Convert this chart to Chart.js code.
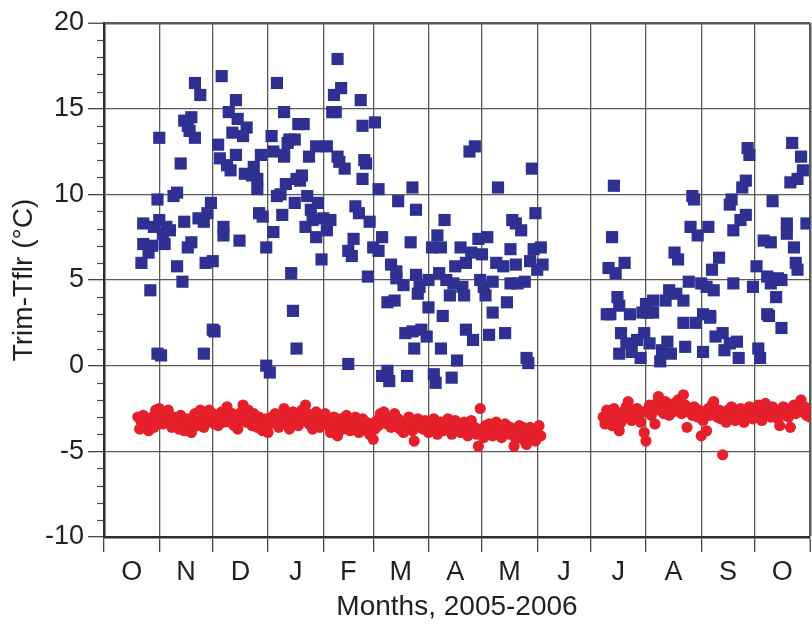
<!DOCTYPE html>
<html>
<head>
<meta charset="utf-8">
<script src="https://cdn.jsdelivr.net/npm/chart.js@4.4.1/dist/chart.umd.min.js"></script>
<style>
  html, body { margin: 0; padding: 0; background: #ffffff; }
  #wrap { width: 812px; height: 629px; }
</style>
</head>
<body>
<div id="wrap"><canvas id="chart" width="812" height="629"></canvas></div>
<script>
// Days are counted from 1 October 2005.
const monthStarts = [0, 31, 61, 92, 123, 151, 182, 212, 243, 273, 304, 335, 365, 396];
const monthLabels = ['O', 'N', 'D', 'J', 'F', 'M', 'A', 'M', 'J', 'J', 'A', 'S', 'O'];
const yMajorTicks = [-10, -5, 0, 5, 10, 15, 20];

// Trim - Tflr, blue squares: day and value
const blueDay = [
  21, 22, 22, 26, 25, 27, 28, 30, 31, 31, 33, 35, 37, 34, 39, 41, 41, 44, 43, 45,
  45, 47, 49, 48, 51, 51, 54, 47, 49, 53, 56, 58, 60, 57, 61, 64, 65, 66, 67, 67,
  69, 71, 70, 72, 74, 74, 75, 76, 78, 80, 79, 83, 84, 86, 86, 87, 89, 88, 91, 94,
  95, 97, 97, 100, 101, 95, 101, 103, 102, 105, 106, 107, 107, 108, 109,
  30, 32, 56, 62, 61, 91, 93, 108,
  112, 104, 101, 115, 119, 125, 111, 110, 99, 114, 120, 116, 117, 113, 119, 123, 127, 125, 122, 131,
  133, 129, 128, 130, 144, 145, 152, 131, 132, 135, 146, 147, 145, 154, 141, 143, 149, 140, 137, 139,
  151, 156, 154, 161, 164, 164, 148, 168, 172, 165, 173, 175, 159, 163, 175, 177, 176, 182, 182, 184,
  187, 189, 188, 191, 192, 194, 190, 197, 200, 201, 202, 196, 203, 206, 205, 208, 210, 212, 215, 211,
  213, 214, 218, 218, 221, 220, 224, 226, 228, 228, 229, 231, 234, 231, 232, 236, 240, 242, 241, 239,
  245, 246, 243,
  137, 156, 159, 160, 170, 169, 173, 174, 178, 181, 185, 186, 189, 195, 198, 203, 207, 216, 225, 237, 238,
  286, 285, 283, 287, 292, 288, 284, 289, 295, 304, 308, 305, 315, 317, 320, 322, 321, 325, 328, 330,
  331, 329, 333, 339, 335, 338, 342, 341, 345, 336, 340, 351, 352, 353, 357, 360, 358, 360, 353, 361,
  362, 364, 366, 370, 374, 375, 372, 374, 378, 377, 372, 383, 383, 387, 388, 389, 385, 389, 392, 391,
  386, 394, 380,
  290, 293, 289, 296, 301, 299, 303, 306, 302, 308, 312, 313, 316, 318, 325, 326, 332, 336, 340, 343,
  347, 348, 351, 355, 356, 367, 368, 373, 380, 282
];
const blueVal = [
  6.0, 7.1, 8.3, 4.4, 6.6, 7.0, 8.1, 9.7, 13.3, 8.5, 7.7, 8.1, 7.9, 7.1, 9.9, 10.1, 5.8, 4.9, 11.8, 8.4,
  14.3, 14.0, 14.5, 13.7, 13.3, 16.5, 15.8, 6.9, 7.2, 8.6, 8.4, 8.9, 9.5, 6.0, 6.1, 12.9, 12.1, 16.9, 8.1, 7.6,
  11.7, 11.4, 14.8, 13.6, 15.5, 12.3, 14.4, 7.3, 13.4, 13.9, 11.2, 11.1, 11.6, 10.9, 10.3, 8.9, 8.7, 12.3, 6.9, 13.4,
  7.8, 16.5, 9.9, 8.8, 14.8, 12.5, 12.3, 13.0, 10.6, 5.4, 3.2, 9.5, 13.2, 10.9, 14.1,
  0.7, 0.6, 0.7, 2.0, 2.1, 0.0, -0.4, 1.0,
  14.1, 13.2, 12.2, 12.2, 12.8, 12.8, 11.1, 10.8, 10.0, 9.9, 9.5, 9.1, 8.5, 8.1, 7.5, 8.6, 8.5, 7.9, 6.2, 17.9,
  16.2, 15.8, 14.8, 14.8, 15.5, 14.0, 14.2, 12.2, 11.9, 11.5, 12.0, 11.8, 10.9, 10.3, 9.3, 8.9, 8.4, 7.4, 6.7, 6.4,
  6.9, 7.5, 6.7, 5.9, 5.5, 5.1, 5.2, 4.7, 7.2, 9.6, 10.4, 9.1, 3.7, 3.8, 5.3, 4.6, 4.2, 5.0, 3.4, 6.9,
  7.6, 6.9, 5.4, 8.5, 5.0, 4.1, 2.9, 5.8, 6.9, 4.6, 4.1, 4.8, 6.0, 6.6, 12.5, 12.8, 7.4, 6.5, 7.5, 5.0,
  4.6, 4.1, 4.9, 3.1, 10.4, 6.0, 5.8, 3.7, 4.8, 6.8, 8.5, 8.3, 7.9, 5.9, 4.8, 4.9, 11.5, 8.9, 6.8, 6.1,
  6.9, 5.9, 5.6,
  0.1, -0.6, -0.3, -0.9, -0.6, 1.9, 2.0, 1.0, 2.1, 1.7, -0.5, -1.0, 1.0, -0.7, 0.3, 2.1, 1.5, 1.8, 1.9, 0.45, 0.15,
  10.5, 7.5, 5.7, 5.4, 6.0, 4.0, 3.0, 3.5, 3.0, 3.6, 3.8, 3.1, 3.8, 4.4, 6.6, 6.2, 4.2, 3.8, 4.9, 9.9,
  9.7, 8.1, 7.6, 8.1, 4.8, 4.6, 4.4, 5.6, 6.3, 3.0, 2.9, 9.4, 9.7, 7.9, 8.5, 8.8, 10.4, 10.8, 4.8, 12.7,
  12.3, 4.6, 5.8, 7.3, 7.2, 9.6, 5.2, 4.8, 5.1, 4.0, 3.0, 8.3, 7.7, 6.9, 6.0, 5.6, 10.7, 10.9, 11.4, 12.2,
  13.0, 8.3, 5.0,
  1.9, 1.3, 0.7, 0.8, 0.45, 1.5, 1.9, 1.3, 3.1, 3.1, 0.25, 0.9, 1.4, 0.7, 2.5, 1.1, 2.5, 0.8, 2.8, 1.7,
  1.9, 0.9, 1.3, 1.4, 0.45, 1.0, 0.45, 2.9, 2.2, 3.0
];

// Red circles: one value per day, first run from day 19, second run from day 280
const redStart1 = 19;
const redVal1 = [
  -3.0, -3.7, -3.3, -2.9, -3.5, -3.1, -3.8, -3.4, -3.0, -3.6,
  -2.6, -3.2, -2.5, -3.0, -3.4, -2.7, -3.1, -2.6, -3.3, -3.6,
  -3.0, -3.5, -3.2, -3.7, -2.9, -3.3, -3.8, -3.4, -3.1, -3.6,
  -3.9, -3.3, -2.8, -3.5, -3.0, -2.6, -3.2, -3.6, -2.9, -3.3,
  -2.6, -3.1, -2.8, -3.4, -3.0, -3.5, -3.2, -2.7, -3.3, -2.9,
  -2.4, -3.0, -3.3, -2.8, -3.5, -3.1, -3.7, -3.2, -2.7, -2.3,
  -2.9, -3.3, -2.6, -3.1, -3.5, -2.8, -3.2, -3.6, -3.0, -3.4,
  -3.8, -3.5, -3.1, -3.9, -3.4, -3.0, -3.3, -2.8, -3.2, -3.6,
  -2.9, -3.3, -2.5, -3.0, -3.4, -3.7, -3.1, -2.7, -3.3, -2.9,
  -3.5, -3.0, -2.6, -3.2, -2.3, -2.8, -3.4, -3.1, -3.7, -3.0,
  -2.7, -3.3, -3.6, -3.0, -3.4, -2.8, -3.2, -3.5, -3.9, -3.3,
  -3.0, -3.6, -4.1, -3.4, -3.1, -3.7, -3.3, -2.9, -3.5, -3.8,
  -3.2, -3.6, -3.0, -3.4, -3.9, -3.5, -3.1, -3.7, -3.3, -3.6,
  -4.0, -3.4, -4.3, -3.7, -3.2, -3.5, -2.8, -3.3, -2.7, -3.1,
  -3.4, -3.0, -3.6, -3.2, -2.8, -3.5, -3.1, -3.7, -3.4, -3.9,
  -3.3, -3.6, -3.0, -3.5, -3.8, -4.4, -3.4, -3.1, -3.6, -3.3,
  -3.7, -3.2, -3.5, -3.9, -3.4, -3.7, -3.1, -3.6, -4.0, -3.5,
  -3.3, -3.8, -3.4, -3.7, -3.1, -3.6, -4.0, -3.5, -3.2, -3.8,
  -3.4, -3.9, -3.6, -3.3, -3.7, -4.1, -3.5, -3.2, -3.8, -3.6,
  -4.0, -4.7, -2.5, -3.7, -4.2, -3.5, -3.9, -3.4, -3.8, -4.1,
  -3.6, -3.3, -3.9, -3.5, -4.2, -3.7, -3.4, -3.8, -4.0, -3.6,
  -3.9, -4.7, -4.3, -3.7, -3.5, -4.0, -3.6, -4.4, -4.6, -3.9,
  -3.6, -4.2, -3.8, -4.4, -3.7, -3.5, -4.1
];
const redStart2 = 280;
const redVal2 = [
  -3.0, -3.4, -2.6, -3.1, -2.8, -3.5, -2.5, -3.2, -2.9, -3.8,
  -3.3, -2.7, -3.0, -2.4, -2.1, -2.8, -3.2, -2.6, -3.0, -2.5,
  -2.9, -3.3, -2.7, -3.9, -4.4, -2.6, -2.3, -2.9, -2.5, -3.4,
  -2.2, -1.8, -2.6, -2.3, -2.8, -2.1, -2.5, -2.9, -2.4, -2.7,
  -2.2, -2.6, -2.0, -2.4, -2.8, -1.7, -2.3, -3.6, -2.7, -2.5,
  -2.9, -2.4, -2.7, -3.0, -2.6, -4.1, -3.2, -2.8, -3.8, -2.5,
  -2.9, -2.3, -2.1, -2.7, -3.0, -2.6, -3.1, -5.2, -2.8, -3.3,
  -2.6, -3.0, -2.4, -2.8, -3.2, -2.7, -3.1, -2.5, -2.9, -3.3,
  -2.6, -3.0, -2.4, -2.8, -3.1, -2.5, -2.9, -2.3, -2.7, -3.2,
  -2.6, -2.2, -2.9, -2.5, -3.0, -2.4, -2.8, -2.6, -3.1, -3.5,
  -2.7, -2.4, -2.9, -2.5, -3.0, -3.6, -2.6, -2.3, -2.8, -2.5,
  -2.2, -2.0, -2.7, -2.4, -2.9, -2.6, -3.0
];

const bluePoints = blueDay.map((d, i) => ({ x: d, y: blueVal[i] }));
const redPoints = redVal1.map((v, i) => ({ x: redStart1 + i, y: v }))
  .concat(redVal2.map((v, i) => ({ x: redStart2 + i, y: v })));

// label positions sit halfway through each month
const monthMids = monthLabels.map((_, i) => (monthStarts[i] + monthStarts[i + 1]) / 2);
const xTickValues = monthStarts.concat(monthMids).sort((a, b) => a - b);

const TEXT = '#231f20';
const GRID = '#5a5a5a';
const FRAME = '#2d2d2d';
const FONT = 'Liberation Sans, Arial, Helvetica, sans-serif';

// short tick marks at every whole degree between the labelled ones
const minorTicks = {
  id: 'minorTicks',
  afterDraw(chart) {
    const y = chart.scales.y;
    const left = chart.chartArea.left;
    const ctx = chart.ctx;
    ctx.save();
    ctx.strokeStyle = '#444';
    ctx.lineWidth = 1.2;
    for (let v = y.min; v <= y.max; v++) {
      if (v % 5 === 0) continue;
      const py = Math.round(y.getPixelForValue(v)) + 0.5;
      ctx.beginPath();
      ctx.moveTo(left - 7, py);
      ctx.lineTo(left, py);
      ctx.stroke();
    }
    ctx.restore();
  }
};

new Chart(document.getElementById('chart'), {
  type: 'scatter',
  data: {
    datasets: [
      {
        label: 'Trim-Tflr',
        data: bluePoints,
        pointStyle: 'rect',
        pointRadius: 8.6,
        pointBorderWidth: 0,
        backgroundColor: '#2e3192',
        borderColor: '#2e3192'
      },
      {
        label: 'red',
        data: redPoints,
        pointStyle: 'circle',
        pointRadius: 5.6,
        pointBorderWidth: 0,
        backgroundColor: '#e5202a',
        borderColor: '#e5202a'
      }
    ]
  },
  options: {
    responsive: false,
    animation: false,
    devicePixelRatio: 1,
    layout: { autoPadding: false, padding: { left: 0, right: 2, top: 23, bottom: 0 } },
    plugins: {
      legend: { display: false },
      tooltip: { enabled: false }
    },
    scales: {
      x: {
        type: 'linear',
        min: 0,
        max: 396,
        afterBuildTicks(scale) {
          scale.ticks = xTickValues.map(v => ({ value: v }));
        },
        afterFit(scale) {
          scale.height = 92;
          scale.paddingLeft = 0;
          scale.paddingRight = 0;
        },
        ticks: {
          autoSkip: false,
          maxRotation: 0,
          padding: 0,
          color: TEXT,
          font: { family: FONT, size: 27, lineHeight: 1.55 },
          callback(value) {
            const i = monthMids.indexOf(value);
            return i >= 0 ? monthLabels[i] : '';
          }
        },
        grid: {
          drawTicks: true,
          tickLength: 15,
          color: ctx => (ctx.tick && monthStarts.includes(ctx.tick.value)) ? GRID : 'rgba(0,0,0,0)',
          tickColor: ctx => (ctx.tick && monthStarts.includes(ctx.tick.value)) ? '#444' : 'rgba(0,0,0,0)',
          lineWidth: ctx => (ctx.tick && ctx.tick.value === 396) ? 2.5 : 1.3,
          tickWidth: 1.3
        },
        border: { display: true, color: FRAME, width: 2.5 },
        title: {
          display: true,
          text: 'Months, 2005-2006',
          color: TEXT,
          font: { family: FONT, size: 28 },
          padding: { top: 0, bottom: 5 }
        }
      },
      y: {
        min: -10,
        max: 20,
        afterFit(scale) {
          scale.width = 104;
          scale.paddingLeft = 0;
          scale.paddingRight = 0;
        },
        ticks: {
          stepSize: 1,
          autoSkip: false,
          padding: 4,
          color: TEXT,
          font: { family: FONT, size: 27 },
          callback(value) {
            return yMajorTicks.includes(value) ? String(value) : '';
          }
        },
        grid: {
          drawTicks: true,
          tickLength: 16,
          color: ctx => (ctx.tick && yMajorTicks.includes(ctx.tick.value)) ? GRID : 'rgba(0,0,0,0)',
          tickColor: ctx => (ctx.tick && yMajorTicks.includes(ctx.tick.value)) ? '#444' : 'rgba(0,0,0,0)',
          lineWidth: ctx => (ctx.tick && ctx.tick.value === 20) ? 2.5 : 1.3,
          tickWidth: 1.3
        },
        border: { display: true, color: FRAME, width: 2.5 },
        title: {
          display: true,
          text: 'Trim-Tflr (°C)',
          color: TEXT,
          font: { family: FONT, size: 28 },
          padding: { top: 7, bottom: 0 }
        }
      }
    }
  },
  plugins: [minorTicks]
});
</script>
</body>
</html>
